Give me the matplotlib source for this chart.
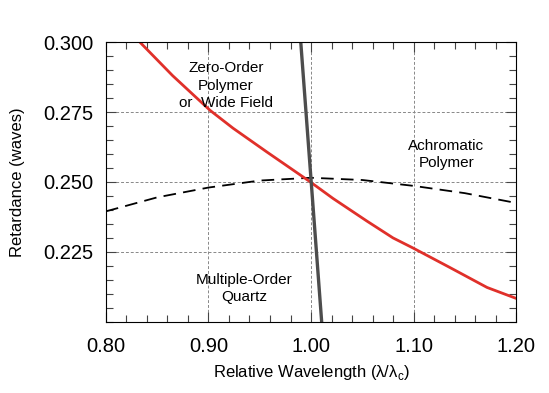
import numpy as np
import matplotlib.pyplot as plt
from matplotlib.ticker import MultipleLocator

plt.rcParams['font.family'] = ['Liberation Sans', 'DejaVu Sans']

# zero-order polymer / wide field (red)
zero_x = [0.833, 0.865, 0.9015, 0.924, 0.957, 0.999, 1.0215, 1.0546, 1.080, 1.0995, 1.1356, 1.1717, 1.200]
zero_y = [0.300, 0.288, 0.2756, 0.2692, 0.2607, 0.2501, 0.2441, 0.2360, 0.2300, 0.2264, 0.2194, 0.2123, 0.2084]

# multiple-order quartz (dark gray)
quartz_x = [0.990, 1.0104]
quartz_y = [0.300, 0.200]

# achromatic polymer (dashed)
achro_x = [0.80, 0.85, 0.90, 0.95, 1.00, 1.05, 1.10, 1.15, 1.20]
achro_y = [0.2395, 0.2445, 0.2480, 0.2505, 0.2515, 0.2507, 0.2486, 0.2460, 0.2425]

fig = plt.figure(figsize=(5.49, 3.93), dpi=100)
ax = fig.add_axes([0.193, 0.181, 0.747, 0.712])

ax.plot(achro_x, achro_y, color='black', lw=1.3, dashes=(7, 4))
ax.plot(zero_x, zero_y, color='#e0302a', lw=2.0)
ax.plot(quartz_x, quartz_y, color='#4d4d4d', lw=2.4)

ax.set_xlim(0.80, 1.20)
ax.set_ylim(0.200, 0.300)
ax.set_xticks([0.80, 0.90, 1.00, 1.10, 1.20])
ax.set_xticklabels(['0.80', '0.90', '1.00', '1.10', '1.20'])
ax.set_yticks([0.225, 0.250, 0.275, 0.300])
ax.set_yticklabels(['0.225', '0.250', '0.275', '0.300'])
ax.xaxis.set_minor_locator(MultipleLocator(0.02))
ax.yaxis.set_minor_locator(MultipleLocator(0.005))
ax.tick_params(which='both', direction='in', top=True, right=True, width=0.8, color='#444444')
ax.tick_params(which='major', length=7, labelsize=14.5, pad=11)
ax.tick_params(axis='y', which='major', pad=9)
ax.tick_params(which='minor', length=5)

for v in [0.90, 1.00, 1.10]:
    ax.axvline(v, color='#888888', lw=0.7, ls=(0, (3, 2)), zorder=0)
for v in [0.225, 0.250, 0.275]:
    ax.axhline(v, color='#888888', lw=0.7, ls=(0, (3, 2)), zorder=0)

ax.set_xlabel('Relative Wavelength (\u03bb/\u03bb$_\\mathregular{c}$)', fontsize=12, labelpad=5)
ax.set_ylabel('Retardance (waves)', fontsize=12, labelpad=13)

ax.text(0.917, 0.2844, 'Zero-Order\nPolymer\nor  Wide Field', ha='center', va='center',
        fontsize=11, linespacing=1.3)
ax.text(1.132, 0.2597, 'Achromatic\nPolymer', ha='center', va='center', fontsize=11, linespacing=1.3)
ax.text(0.935, 0.2120, 'Multiple-Order\nQuartz', ha='center', va='center', fontsize=11, linespacing=1.3)

fig.savefig('out.png', dpi=100)
